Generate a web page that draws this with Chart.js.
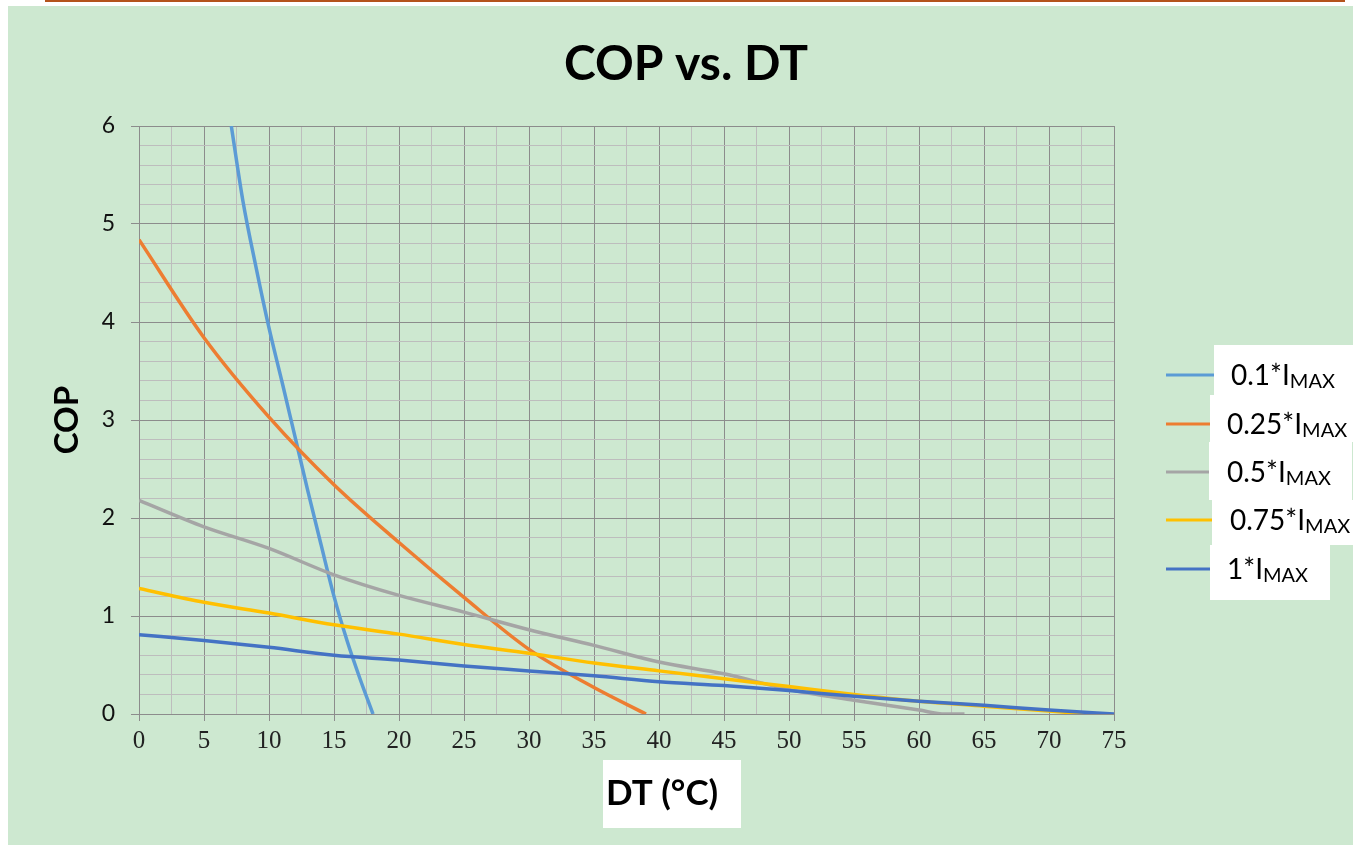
<!DOCTYPE html>
<html>
<head>
<meta charset="utf-8">
<script src="https://cdn.jsdelivr.net/npm/chart.js"></script>
<style>
  html, body { margin: 0; padding: 0; background: #fff; }
  #topline { position: absolute; left: 45px; top: 0; width: 1300px; height: 2px; background: #b4531c; }
  #wrap { position: absolute; left: 8px; top: 6px; width: 1345px; height: 839px; background: #cde8d0; }
</style>
</head>
<body>
<div id="topline"></div>
<div id="wrap"><canvas id="myChart" width="1345" height="839"></canvas></div>
<script>
// values (DT in °C, COP)
const seriesNames = ['0.1*I', '0.25*I', '0.5*I', '0.75*I', '1*I'];
const seriesSub = 'MAX';
const seriesColors = ['#5b9bd5', '#ed7d31', '#a5a5a5', '#ffc000', '#4472c4'];

const dt01 = [7.1, 8, 9, 10, 11, 12, 13, 14, 15, 16, 17, 18];
const cop01 = [6.0, 5.23, 4.56, 3.94, 3.39, 2.83, 2.27, 1.73, 1.2, 0.75, 0.36, 0];

const dt025 = [0, 5, 10, 15, 20, 25, 30, 35, 39];
const cop025 = [4.84, 3.84, 3.03, 2.34, 1.75, 1.19, 0.66, 0.27, 0];

const dt05 = [0, 5, 10, 15, 20, 25, 30, 35, 40, 45, 50, 55, 60, 62, 63.5];
const cop05 = [2.18, 1.91, 1.69, 1.42, 1.21, 1.04, 0.86, 0.70, 0.53, 0.41, 0.25, 0.14, 0.04, 0, 0];

const dt075 = [0, 5, 10, 15, 20, 25, 30, 35, 40, 45, 50, 55, 60, 65, 70, 73];
const cop075 = [1.28, 1.14, 1.03, 0.91, 0.815, 0.71, 0.62, 0.52, 0.44, 0.36, 0.28, 0.20, 0.13, 0.08, 0.03, 0];

const dt1 = [0, 5, 10, 15, 20, 25, 30, 35, 40, 45, 50, 55, 60, 65, 70, 75];
const cop1 = [0.81, 0.75, 0.68, 0.60, 0.55, 0.49, 0.44, 0.39, 0.33, 0.29, 0.24, 0.18, 0.13, 0.09, 0.04, 0];

const xLabelsEvery = 5;
const yLabelsEvery = 1;

const allDt = [dt01, dt025, dt05, dt075, dt1];
const allCop = [cop01, cop025, cop05, cop075, cop1];

const majorColor = '#8c8c8c';
const minorColor = '#bdbdbd';
const isMult = (v, m) => Math.abs(v / m - Math.round(v / m)) < 1e-6;

const datasets = seriesNames.map((name, i) => ({
  label: name + seriesSub,
  data: allDt[i].map((x, k) => ({ x: x, y: allCop[i][k] })),
  borderColor: seriesColors[i],
  backgroundColor: seriesColors[i],
  borderWidth: 3.5,
  pointRadius: 0,
  fill: false,
  cubicInterpolationMode: 'monotone',
  order: seriesNames.length - i
}));

// title, boxed x axis title, legend with subscript + white label boxes
const extras = {
  id: 'extras',
  beforeDraw(chart) {
    const c = chart.ctx;
    c.save();
    c.fillStyle = '#fff';
    c.fillRect(595, 754, 138, 68);
    c.restore();
  },
  afterDraw(chart) {
    const c = chart.ctx;
    c.save();
    c.fillStyle = '#000';
    c.textBaseline = 'alphabetic';
    c.textAlign = 'center';
    c.font = 'bold 48px Lato';
    c.fillText('COP vs. DT', 678, 74);

    c.textAlign = 'left';
    c.font = 'bold 35px Lato';
    c.fillText('DT (°C)', 598, 799);

    const boxes = [[1206, 339, 139, 50], [1202, 389, 143, 47], [1201, 436, 143, 58], [1204, 494, 141, 45], [1202, 539, 120, 55]];
    const lineY = [369, 418, 466, 514, 563];
    const textX = [1223, 1219, 1219, 1222, 1219];
    chart.data.datasets.forEach((ds, i) => {
      c.strokeStyle = ds.borderColor;
      c.lineWidth = 3;
      c.beginPath();
      c.moveTo(1158, lineY[i]);
      c.lineTo(1206, lineY[i]);
      c.stroke();
    });
    c.fillStyle = '#fff';
    boxes.forEach(b => c.fillRect(b[0], b[1], b[2], b[3]));
    chart.data.datasets.forEach((ds, i) => {
      c.fillStyle = '#000';
      c.font = '28px Lato';
      const main = seriesNames[i];
      c.fillText(main, textX[i], lineY[i] + 10);
      const w = c.measureText(main).width;
      c.font = '20px Lato';
      c.fillText(seriesSub, textX[i] + w, lineY[i] + 13);
    });
    c.restore();
  }
};

new Chart(document.getElementById('myChart'), {
  type: 'line',
  data: { datasets: datasets },
  plugins: [extras],
  options: {
    responsive: false,
    animation: false,
    layout: { padding: { left: 0, right: 239, top: 120, bottom: 71 } },
    plugins: {
      legend: { display: false },
      tooltip: { enabled: false },
      title: { display: false }
    },
    scales: {
      x: {
        type: 'linear',
        min: 0,
        max: 75,
        afterFit: s => { s.height = 60; },
        ticks: {
          stepSize: 2.5,
          autoSkip: false,
          maxRotation: 0,
          padding: 5,
          color: '#222',
          font: { family: 'Liberation Serif', size: 25 },
          callback: v => isMult(v, xLabelsEvery) ? String(Math.round(v)) : ''
        },
        grid: {
          color: ctx => isMult(ctx.tick.value, xLabelsEvery) ? majorColor : minorColor,
          tickColor: ctx => isMult(ctx.tick.value, xLabelsEvery) ? majorColor : 'rgba(0,0,0,0)',
          tickLength: 7,
          lineWidth: 1
        },
        border: { color: majorColor }
      },
      y: {
        min: 0,
        max: 6,
        afterFit: s => { s.width = 131; },
        ticks: {
          stepSize: 0.2,
          autoSkip: false,
          padding: 16,
          color: '#111',
          font: { family: 'Lato', size: 23 },
          callback: v => isMult(v, yLabelsEvery) ? String(Math.round(v)) : ''
        },
        grid: {
          color: ctx => isMult(ctx.tick.value, yLabelsEvery) ? majorColor : minorColor,
          tickColor: ctx => isMult(ctx.tick.value, yLabelsEvery) ? majorColor : 'rgba(0,0,0,0)',
          tickLength: 8,
          lineWidth: 1
        },
        border: { color: majorColor },
        title: {
          display: true,
          text: 'COP',
          color: '#000',
          font: { family: 'Lato', size: 33, weight: 'bold' },
          padding: { top: 40, bottom: 0 }
        }
      }
    }
  }
});
</script>
</body>
</html>
